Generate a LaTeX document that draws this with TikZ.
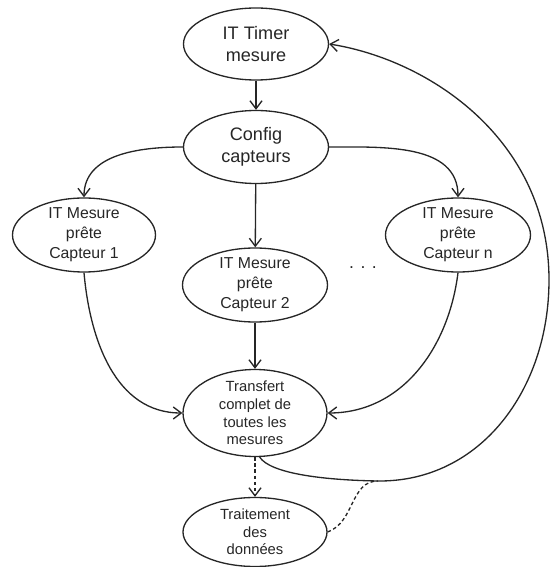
\documentclass[tikz,border=0pt]{standalone}
\usepackage{fontspec}
\setmainfont{Liberation Sans}
\usetikzlibrary{arrows.meta,shapes.geometric}

\begin{document}
\begin{tikzpicture}[>={Straight Barb[length=1.6mm,width=2.4mm]}, line width=0.75pt,
  draw=black!85, text=black!85,
  etat/.style={ellipse, draw, align=center, inner xsep=0pt, inner ysep=-3pt,
               minimum width=2.9cm, minimum height=1.48cm},
  tirets/.style={dash pattern=on 2pt off 1.5pt},
  grand/.style={font=\fontsize{10.3}{12.5}\selectfont},
  moyen/.style={font=\fontsize{9}{11.4}\selectfont},
  petit/.style={font=\fontsize{8.4}{10}\selectfont}]
  \useasboundingbox (0,0) rectangle (11.02,11.34);

  % interruption timer et configuration
  \node[etat, grand, minimum height=1.44cm] (timer) at (5.12,10.46) {IT Timer\\mesure};
  \node[etat, grand, minimum height=1.46cm] (config) at (5.12,8.40) {Config\\capteurs};
  % une interruption par capteur
  \node[etat, moyen, minimum width=2.86cm] (cap1) at (1.68,6.64) {IT Mesure\\prête\\Capteur 1};
  \node[etat, moyen] (cap2) at (5.10,5.64) {IT Mesure\\prête\\Capteur 2};
  \node[etat, moyen] (capn) at (9.16,6.64) {IT Mesure\\prête\\Capteur n};
  \node[font=\fontsize{10}{12}\selectfont] (dots) at (7.26,5.98) {. . .};
  % transfert puis traitement
  \node[etat, petit, minimum width=2.88cm, minimum height=1.74cm] (transf) at (5.10,3.08)
       {Transfert\\complet de\\toutes les\\mesures};
  \node[etat, petit, minimum width=2.88cm, minimum height=1.38cm] (trait) at (5.10,0.70)
       {Traitement\\des\\données};

  \draw[->] (timer) -- (config);
  \draw[->] (config.west) to[out=180, in=90] (cap1.north);
  \draw[->] (config) -- (cap2);
  \draw[->] (config.east) to[out=0, in=90] (capn.north);
  \draw[->] (cap1.south) to[out=-85, in=180] (transf.west);
  \draw[->] (cap2) -- (transf);
  \draw[->] (capn.south) to[out=-97, in=0] (transf.east);
  \draw[->, tirets] (transf) -- (trait);

  % retour vers le timer
  \coordinate (junc) at (7.56,1.72);
  \coordinate (rgt) at (10.98,5.74);
  \draw[->] (transf.-84) .. controls (5.40,1.88) and (6.40,1.74) .. (junc)
            .. controls (9.60,1.70) and (10.98,3.54) .. (rgt)
            .. controls (10.98,8.54) and (8.60,10.14) .. (timer.east);
  \draw[tirets] (trait.east) .. controls (7.10,0.90) and (7.00,1.72) .. (junc);
\end{tikzpicture}
\end{document}
